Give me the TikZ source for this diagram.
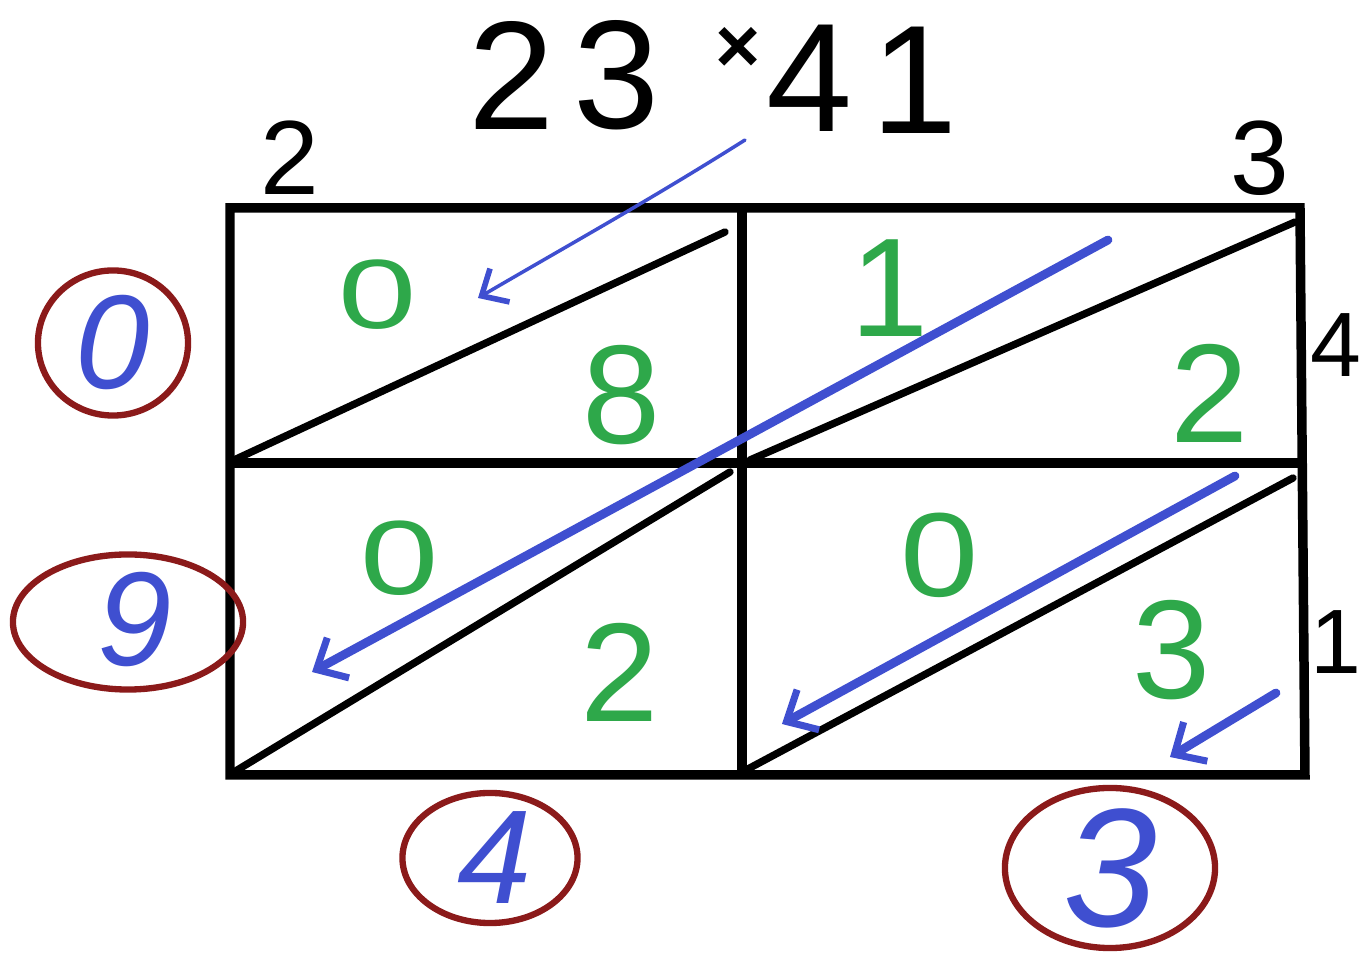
\documentclass[tikz,border=0pt]{standalone}
\usepackage{fontspec}
\setmainfont{Liberation Sans}
\usetikzlibrary{arrows.meta,shapes.geometric}
\definecolor{gr}{HTML}{2EA84A}
\definecolor{bl}{HTML}{3F4FD0}
\definecolor{rd}{HTML}{8B1A1A}
\tikzset{
  grid/.style={line width=2.7pt, black},
  diag/.style={line width=2.1pt, black, line cap=round},
  blarrow/.style={line width=2.5pt, bl, line cap=round, -{Straight Barb[length=7pt,width=13pt,line width=2pt]}},
  thinarrow/.style={line width=1pt, bl, line cap=round, -{Straight Barb[length=6pt,width=11pt,line width=1.6pt]}},
  ring/.style={draw=rd, line width=1.8pt, ellipse, inner sep=0pt},
  gdig/.style={text=gr, font=\fontsize{40}{48}\selectfont},
  bdig/.style={text=bl, font=\fontsize{38}{46}\selectfont\itshape},
  kdig/.style={text=black, font=\fontsize{30}{36}\selectfont},
  tdig/.style={text=black, font=\fontsize{44}{50}\selectfont},
}
\begin{document}
\begin{tikzpicture}[x=0.01cm,y=-0.01cm]
\useasboundingbox (0,0) rectangle (1365,964);
% grid
\coordinate (TL) at (230,208); \coordinate (TM) at (742,208); \coordinate (TR) at (1300,208);
\coordinate (ML) at (230,463); \coordinate (MM) at (742,463); \coordinate (MR) at (1305,463);
\coordinate (BL) at (230,775); \coordinate (BM) at (742,778); \coordinate (BR) at (1305,775);
\draw[grid] (TL) -- (TR) -- (BR) -- (BL) -- cycle;
\draw[grid] (TM) -- (BM);
\draw[grid] (ML) -- (MR);
% diagonals
\coordinate (d1a) at (234,460); \coordinate (d1b) at (725,232);
\coordinate (d2a) at (750,460); \coordinate (d2b) at (1295,222);
\coordinate (d3a) at (234,772); \coordinate (d3b) at (730,472);
\coordinate (d4a) at (746,770); \coordinate (d4b) at (1293,478);
\draw[diag] (d1a) -- (d1b);
\draw[diag] (d2a) -- (d2b);
\draw[diag] (d3a) -- (d3b);
\draw[diag] (d4a) -- (d4b);
% title and factors
\node[tdig] (t2) at (512,75) {2};
\node[tdig] (t3) at (617,75) {3};
\node[font=\fontsize{22}{26}\selectfont\bfseries] (tx) at (738,50) {×};
\node[tdig] (t4) at (810,78) {4};
\node[tdig] (t1) at (915,80) {1};
\node[kdig] (c2) at (290,158) {2};
\node[kdig] (c3) at (1260,158) {3};
\node[kdig, anchor=west, inner sep=0pt, font=\fontsize{26}{30}\selectfont] (r4) at (1310,345) {4};
\node[kdig, anchor=west, inner sep=0pt, font=\fontsize{26}{30}\selectfont] (r1) at (1310,642) {1};
% green digits
\node[gdig, yscale=0.7] (g1) at (378,295) {0};
\node[gdig] (g2) at (622,395) {8};
\node[gdig] (g3) at (890,288) {1};
\node[gdig] (g4) at (1210,393) {2};
\node[gdig, yscale=0.75] (g5) at (400,558) {0};
\node[gdig] (g6) at (620,672) {2};
\node[gdig, yscale=0.85] (g7) at (940,555) {0};
\node[gdig] (g8) at (1172,650) {3};
% blue arrows
\coordinate (a1s) at (745,140); \coordinate (a1e) at (478,298);
\draw[thinarrow] (a1s) .. controls (650,200) and (560,250) .. (a1e);
\coordinate (a2s) at (1108,240); \coordinate (a2e) at (312,672);
\draw[blarrow] (a2s) -- (a2e);
\coordinate (a3s) at (1235,476); \coordinate (a3e) at (782,724);
\draw[blarrow] (a3s) -- (a3e);
\coordinate (a4s) at (1276,693); \coordinate (a4e) at (1170,757);
\draw[blarrow] (a4s) -- (a4e);
% circled results
\node[ring, minimum width=1.5cm, minimum height=1.45cm] (e0) at (113,343) {};
\node[bdig] (b0) at (113,343) {0};
\node[ring, minimum width=2.3cm, minimum height=1.35cm] (e9) at (128,622) {};
\node[bdig] (b9) at (135,620) {9};
\node[ring, minimum width=1.75cm, minimum height=1.3cm] (e4) at (490,858) {};
\node[bdig] (b4) at (495,858) {4};
\node[ring, minimum width=2.1cm, minimum height=1.6cm] (e3) at (1110,868) {};
\node[bdig, font=\fontsize{48}{54}\selectfont\itshape] (b3) at (1110,868) {3};
\end{tikzpicture}
\end{document}
